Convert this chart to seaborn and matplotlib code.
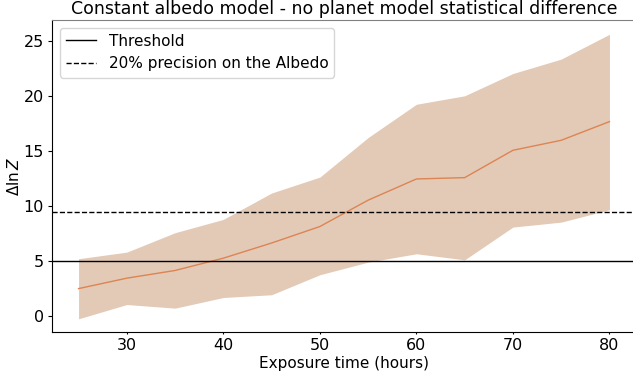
import numpy as np
import pandas as pd
import matplotlib
matplotlib.use("Agg")
import matplotlib.pyplot as plt
import seaborn as sns

# Exposure times (hours) and Delta ln Z statistics
exposure = [25, 30, 35, 40, 45, 50, 55, 60, 65, 70, 75, 80]
dlnz_mean = [2.45, 3.4, 4.1, 5.22, 6.6, 8.1, 10.5, 12.43, 12.55, 15.04, 15.95, 17.65]
dlnz_upper = [5.17, 5.77, 7.54, 8.75, 11.15, 12.6, 16.2, 19.23, 20.0, 22.03, 23.34, 25.6]
dlnz_lower = [-0.3, 1.0, 0.67, 1.64, 1.89, 3.71, 4.86, 5.62, 5.07, 8.05, 8.5, 9.63]

threshold = 5.0
albedo_precision = 9.4

df = pd.DataFrame({"time": exposure, "mean": dlnz_mean,
                   "lo": dlnz_lower, "hi": dlnz_upper})

plt.rcParams["font.size"] = 11.5
fig = plt.figure(figsize=(6.33, 3.78), dpi=100)
ax = fig.add_axes([52 / 633, 1 - 332 / 378, (636 - 52) / 633, (332 - 20) / 378])

ax.fill_between(df["time"], df["lo"], df["hi"], color="#e3cab7", lw=0)
sns.lineplot(data=df, x="time", y="mean", ax=ax, color="#dd8452", lw=1.0)

ax.axhline(threshold, color="black", lw=1.0, label="Threshold")
ax.axhline(albedo_precision, color="black", lw=1.0, ls="--",
           label="20% precision on the Albedo")

ax.set_xlim(22.25, 82.75)
ax.set_ylim(-1.5, 26.9)
ax.set_xticks([30, 40, 50, 60, 70, 80])
ax.set_yticks([0, 5, 10, 15, 20, 25])
ax.tick_params(axis="x", length=1.5, pad=3)
ax.tick_params(axis="y", length=3, pad=3)
ax.set_xlabel("Exposure time (hours)", fontsize=11, labelpad=2)
ax.set_ylabel(r"$\Delta \ln Z$", fontsize=11, labelpad=1)
ax.set_title("Constant albedo model - no planet model statistical difference",
             fontsize=12.5, pad=4)

ax.spines["right"].set_visible(False)
ax.spines["top"].set_color("#808080")

ax.legend(loc="upper left", fontsize=11)

fig.savefig("out.png", dpi=100)
